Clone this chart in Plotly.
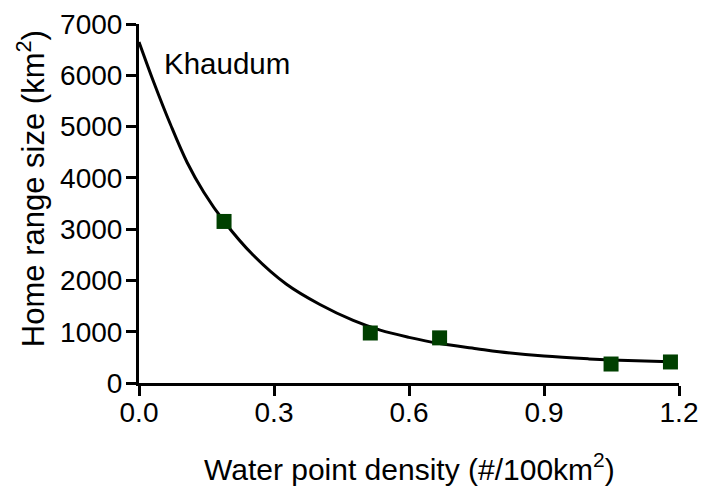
import plotly.graph_objects as go

# Observed data points
density = [0.189, 0.514, 0.668, 1.049, 1.181]
home_range = [3150, 975, 880, 370, 410]

# Fitted curve
curve_x = [0.0, 0.033, 0.07, 0.107, 0.144, 0.19, 0.253, 0.327, 0.402, 0.476,
           0.536, 0.6, 0.668, 0.75, 0.8, 0.9, 1.0, 1.049, 1.18]
curve_y = [6650, 5860, 5040, 4300, 3720, 3140, 2500, 1930, 1530, 1220,
           1030, 890, 770, 670, 610, 525, 470, 450, 415]

x_ticks = [0.0, 0.3, 0.6, 0.9, 1.2]
x_tick_labels = ["0.0", "0.3", "0.6", "0.9", "1.2"]
y_ticks = [0, 1000, 2000, 3000, 4000, 5000, 6000, 7000]

FONT = "Liberation Sans, Arial, sans-serif"

fig = go.Figure()
fig.add_trace(go.Scatter(x=curve_x, y=curve_y, mode="lines",
                         line=dict(color="black", width=3, shape="spline", smoothing=1.0),
                         hoverinfo="skip", showlegend=False, cliponaxis=False))
fig.add_trace(go.Scatter(x=density, y=home_range, mode="markers",
                         marker=dict(symbol="square", size=15, color="#004000"),
                         showlegend=False, cliponaxis=False))

fig.update_layout(
    width=704, height=489,
    margin=dict(l=139, r=25, t=24, b=106, autoexpand=False),
    paper_bgcolor="white", plot_bgcolor="white",
    font=dict(family=FONT, color="black", size=28),
    xaxis=dict(range=[0, 1.2], tickvals=x_ticks, ticktext=x_tick_labels,
               automargin=False,
               showgrid=False, zeroline=False, showline=True, linecolor="black",
               linewidth=3, ticks="outside", ticklen=10, tickwidth=3,
               tickcolor="black", tickfont=dict(size=28, family=FONT),
               ticklabelstandoff=-8),
    yaxis=dict(range=[0, 7000], tickvals=y_ticks, automargin=False,
               showgrid=False, zeroline=False, showline=True, linecolor="black",
               linewidth=3, ticks="outside", ticklen=10, tickwidth=3,
               tickcolor="black", tickfont=dict(size=28, family=FONT),
               ticklabelstandoff=-2),
    annotations=[
        dict(text="Khaudum", x=0.051, y=6230, xref="x", yref="y",
             xanchor="left", yanchor="middle", showarrow=False,
             font=dict(size=29.5, family=FONT)),
        dict(text="Home range size (km<sup>2</sup>)", x=-0.2, y=0.54,
             xref="paper", yref="paper", textangle=-90, showarrow=False,
             xanchor="center", yanchor="middle", font=dict(size=31, family=FONT)),
        dict(text="Water point density (#/100km<sup>2</sup>)", x=0.5, y=-0.235,
             xref="paper", yref="paper", showarrow=False,
             xanchor="center", yanchor="middle", font=dict(size=30, family=FONT)),
    ],
)

fig.write_html("out.html", config={"displayModeBar": False},
               post_script="document.body.style.margin='0';")
